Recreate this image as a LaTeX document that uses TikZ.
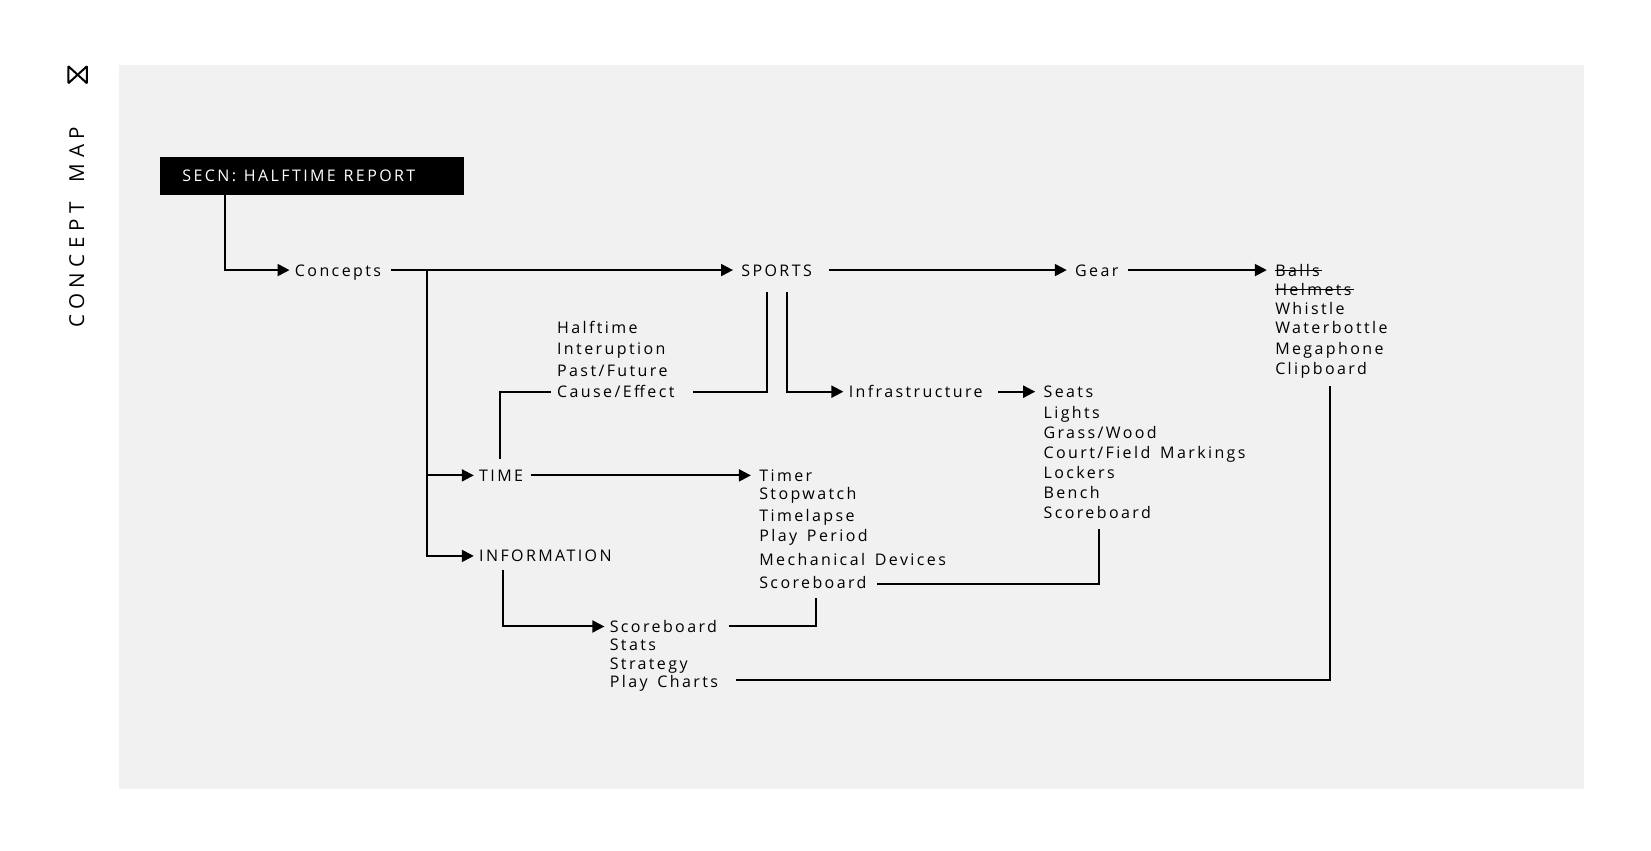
\documentclass[tikz,border=0pt]{standalone}
\usepackage{fontspec}
\usepackage{tikz}
\usetikzlibrary{calc, positioning, arrows.meta}
\setmainfont{Open Sans}
\newfontfamily\trackfont[LetterSpace=15,WordSpace=1.5]{Open Sans}
\newfontfamily\widefont[LetterSpace=27]{Open Sans}
\definecolor{panelgray}{HTML}{F1F1F1}
\tikzset{
	item/.style={anchor=west, inner xsep=2.5pt, inner ysep=0pt, text height=8pt, text depth=2pt, font=\trackfont\fontsize{8pt}{9pt}\selectfont},
	link/.style={line width=1pt, black},
	arrowlink/.style={link, -{Triangle[length=6pt,width=6pt]}},
	gaparrow/.style={arrowlink, shorten >=1.5pt},
}
\begin{document}
\begin{tikzpicture}[x=0.52647pt, y=-0.52647pt]
\useasboundingbox (0,0) rectangle (1568,807.3);
	% Backdrop
\fill [panelgray] (113,62) rectangle (1504,749);
\node (side) [rotate=90, inner sep=0pt, font=\widefont\fontsize{10.3pt}{12pt}\selectfont] at (73,216) {\spaceskip=10pt CONCEPT MAP};
\coordinate (iconnw) at (65,63);
\coordinate (iconne) at (82.5,63);
\coordinate (iconsw) at (65,79);
\coordinate (iconse) at (82.5,79);
\draw [line width=1pt, line join=bevel] (iconnw) -- (iconse) -- (iconne) -- (iconsw) -- cycle;
\node (title) [fill=black, text=white, anchor=north west, minimum width=152pt, minimum height=19pt, inner sep=0pt, text width=130pt, align=left, font=\trackfont\fontsize{8pt}{9pt}\selectfont] at (152,149) {\spaceskip=3.9pt\raisebox{-0.5pt}{SECN: HALFTIME REPORT}};

	% Main row
\node [item] (concepts) at (275,256.5) {Concepts};
\node [item] (sports) at (699,256.5) {SPORTS};
\node [item] (gear) at (1016,256.5) {Gear};
\node [item] (balls) at (1206,256.5) {Balls};
\node [item] (helmets) at (1206,275) {Helmets};
\node [item] (whistle) at (1206,293) {Whistle};
\node [item] (waterbottle) at (1206,311) {Waterbottle};
\node [item] (megaphone) at (1206,331) {Megaphone};
\node [item] (clipboard) at (1206,350) {Clipboard};

	% Sports branch
\node [item] (halftime) at (524,311) {Halftime};
\node [item] (interuption) at (524,331) {Interuption};
\node [item] (pastfuture) at (524,352) {Past/Future};
\node [item] (cause) at (524,372) {Cause/Effect};
\node [item] (infra) at (801,372) {Infrastructure};
\node [item] (seats) at (986,372) {Seats};
\node [item] (lights) at (986,392) {Lights};
\node [item] (grass) at (986,411) {Grass/Wood};
\node [item] (court) at (986,430) {Court/Field Markings};
\node [item] (lockers) at (986,449) {Lockers};
\node [item] (bench) at (986,468) {Bench};
\node [item] (fieldboard) at (986,487) {Scoreboard};

	% Time branch
\node [item] (time) at (450,451.5) {TIME};
\node [item] (timer) at (716,451.5) {Timer};
\node [item] (stopwatch) at (716,469) {Stopwatch};
\node [item] (timelapse) at (716,490) {Timelapse};
\node [item] (playperiod) at (716,509) {Play Period};
\node [item] (mechanical) at (716,531) {Mechanical Devices};
\node [item] (timeboard) at (716,553) {Scoreboard};

	% Information branch
\node [item] (information) at (450,528) {INFORMATION};
\node [item] (infoboard) at (574,595) {Scoreboard};
\node [item] (stats) at (574,612) {Stats};
\node [item] (strategy) at (574,630) {Strategy};
\node [item] (playcharts) at (574,647) {Play Charts};

	% Free ends
\coordinate (titleout) at (213.5,185);
\coordinate (branch) at (406,256.5);
\coordinate (conceptsout) at (371,256.5);
\coordinate (sportsleft) at (728,277);
\coordinate (sportsright) at (747,277);
\coordinate (timeup) at (475,436);
\coordinate (infodown) at (478,541);
\coordinate (causeleft) at (523,372);
\coordinate (causeright) at (658,372);
\coordinate (sportsout) at (787,256.5);
\coordinate (gearout) at (1071,256.5);
\coordinate (infraout) at (948,372);
\coordinate (timeout) at (504,451.5);
\coordinate (timeboardout) at (833,555);
\coordinate (fieldboardout) at (1044,502);
\coordinate (timeboardin) at (775,568);
\coordinate (infoboardout) at (692,595);
\coordinate (chartsout) at (699,646);
\coordinate (clipboardout) at (1263,367);

\draw [arrowlink] (titleout) |- (concepts.west);
\draw [gaparrow] (conceptsout) -- (sports.west);
\draw [gaparrow] (sportsout) -- (gear.west);
\draw [gaparrow] (gearout) -- (balls.west);
\draw [arrowlink] (branch) |- (time.west);
\draw [arrowlink] (branch) |- (information.west);
\draw [link] (sportsleft) |- (causeright);
\draw [arrowlink] (sportsright) |- (infra.west);
\draw [gaparrow] (infraout) -- (seats.west);
\draw [link] (timeup) |- (causeleft);
\draw [gaparrow] (timeout) -- (timer.west);
\draw [arrowlink] (infodown) |- (infoboard.west);
\draw [link] (infoboardout) -| (timeboardin);
\draw [link] (timeboardout) -| (fieldboardout);
\draw [link] (chartsout) -| (clipboardout);
\draw [line width=0.5pt, shorten <=2.5pt, shorten >=1.5pt] (balls.west) -- (balls.east);
\draw [line width=0.5pt, shorten <=2.5pt, shorten >=1.5pt] (helmets.west) -- (helmets.east);
\end{tikzpicture}
\end{document}
